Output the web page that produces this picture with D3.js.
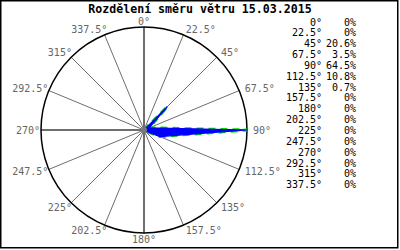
<!DOCTYPE html>
<html>
<head>
<meta charset="utf-8">
<script src="https://cdn.jsdelivr.net/npm/d3@7"></script>
<style>
  body { margin: 0; background: #fff; }
  text { font-family: "DejaVu Sans Mono", monospace; }
</style>
</head>
<body>
<div id="chart_box"></div>
<script>
var title = "Rozdělení směru větru 15.03.2015";
var directions = [0, 22.5, 45, 67.5, 90, 112.5, 135, 157.5, 180, 202.5, 225, 247.5, 270, 292.5, 315, 337.5];
var values = [0, 0, 20.6, 3.5, 64.5, 10.8, 0.7, 0, 0, 0, 0, 0, 0, 0, 0, 0];

var width = 400, height = 250;
var cx = 144, cy = 130, radius = 103;

var svg = d3.select("#chart_box").append("svg")
    .attr("width", width)
    .attr("height", height);

// frame
svg.append("rect")
    .attr("x", 0.75).attr("y", 0.75)
    .attr("width", 397).attr("height", 247)
    .attr("fill", "none")
    .attr("stroke", "#000")
    .attr("stroke-width", 1.5);

svg.append("text")
    .attr("x", 200).attr("y", 13)
    .attr("text-anchor", "middle")
    .style("font-size", "11.6px")
    .style("font-weight", "bold")
    .text(title);

var g = svg.append("g")
    .attr("transform", "translate(" + cx + "," + cy + ")");

var r = d3.scaleLinear()
    .domain([0, d3.max(values)])
    .range([0, radius]);

function rad(d) { return d * Math.PI / 180; }

// spokes
g.selectAll(".spoke")
    .data(directions)
    .enter().append("line")
    .attr("x1", 0).attr("y1", 0)
    .attr("x2", function (d) { return radius * Math.sin(rad(d)); })
    .attr("y2", function (d) { return -radius * Math.cos(rad(d)); })
    .attr("stroke", "#6e6e6e")
    .attr("stroke-width", function (d) { return d % 90 === 0 ? 2 : 1; });

g.append("circle")
    .attr("r", radius)
    .attr("fill", "none")
    .attr("stroke", "#000")
    .attr("stroke-width", 1.5);

// wind rose polygon
var rose = d3.lineRadial()
    .angle(function (d, i) { return rad(directions[i]); })
    .radius(function (d) { return r(d); })
    .curve(d3.curveLinearClosed);

// dashed green outline underneath, blue area on top
g.append("path")
    .attr("d", rose(values))
    .attr("fill", "none")
    .attr("stroke", "#00dd00")
    .attr("stroke-width", 3)
    .attr("stroke-dasharray", "7,5");

g.append("path")
    .attr("d", rose(values))
    .attr("fill", "#0000ff")
    .attr("stroke", "#0000ff")
    .attr("stroke-width", 1.2);

g.append("circle")
    .attr("r", 3)
    .attr("fill", "#777");

// direction labels
g.selectAll(".dirlabel")
    .data(directions)
    .enter().append("text")
    .attr("x", function (d) {
        var s = Math.sin(rad(d));
        return (radius + 6) * s + (s < -0.1 ? 5 : 0);
    })
    .attr("y", function (d) { return -(radius + 6) * Math.cos(rad(d)); })
    .attr("dy", "0.35em")
    .attr("text-anchor", function (d) {
        var s = Math.sin(rad(d));
        return s > 0.1 ? "start" : (s < -0.1 ? "end" : "middle");
    })
    .attr("fill", "#666")
    .style("font-size", "10px")
    .text(function (d) { return d + "°"; });

// legend
var legend = svg.append("g");
legend.selectAll(".ldir")
    .data(directions)
    .enter().append("text")
    .attr("x", 322)
    .attr("y", function (d, i) { return 22 + i * 10.85; })
    .attr("dy", "0.35em")
    .attr("text-anchor", "end")
    .style("font-size", "10px")
    .text(function (d) { return d + "°"; });

legend.selectAll(".lval")
    .data(values)
    .enter().append("text")
    .attr("x", 356)
    .attr("y", function (d, i) { return 22 + i * 10.85; })
    .attr("dy", "0.35em")
    .attr("text-anchor", "end")
    .style("font-size", "10px")
    .text(function (d) { return d + "%"; });
</script>
</body>
</html>
